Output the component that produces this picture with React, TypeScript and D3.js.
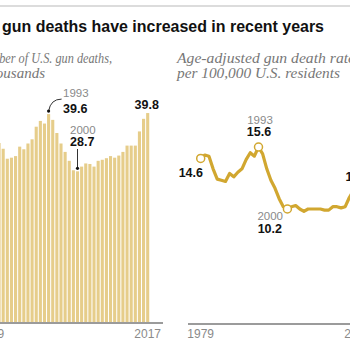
import React from 'react';
import * as d3 from 'd3';

// years 1979..2017
const years = d3.range(1979, 2018);

// number of U.S. gun deaths, thousands
const gunDeaths = [
    32.8, 33.8, 34.1, 33.0, 31.1, 31.3, 31.6, 33.4, 32.9, 34.0, 34.8, 37.2, 38.3, 37.8, 39.6, 38.5, 36.0, 34.0, 32.4,
    30.7, 28.9, 28.7, 29.6, 30.2, 30.1, 29.6, 30.7, 30.9, 31.2, 31.6, 31.3, 31.7, 32.4, 33.6, 33.6, 33.6, 36.3, 38.7,
    39.8,
];

// age-adjusted gun death rate per 100,000
const gunRate = [
    14.6, 14.9, 14.8, 13.7, 12.8, 12.7, 12.6, 13.3, 13.0, 13.4, 13.7, 14.5, 15.1, 14.8, 15.6, 15.0, 13.7, 12.7, 12.0,
    11.1, 10.4, 10.2, 10.4, 10.5, 10.2, 10.0, 10.2, 10.2, 10.2, 10.2, 10.1, 10.1, 10.4, 10.4, 10.3, 10.4, 11.2, 11.8,
    12.0,
];

const axisYears = [1979, 2017];
const rateMarked = [1979, 1993, 2000];

const GOLD = '#d1a730';
const BAR = '#e6cd8a';
const GREY_TXT = '#8a8a8a';
const SANS = '"Liberation Sans", Arial, sans-serif';
const SERIF = '"Liberation Serif", Georgia, serif';

export default function App() {
    const W = 350;
    const H = 350;

    // left panel (bars)
    const xL = d3.scaleLinear().domain([1979, 2017]).range([-9.2, 147.7]);
    const yL = d3.scaleLinear().domain([0, 40]).range([322, 112]);
    const barW = 3.1;

    // right panel (line)
    const xR = d3.scaleLinear().domain([1979, 2017]).range([200.7, 357.6]);
    const yR = d3.scaleLinear().domain([0, 16]).range([326.1, 142.4]);

    const line = d3
        .line<number>()
        .x((d, i) => xR(years[i]))
        .y((d) => yR(d))
        .curve(d3.curveLinear);

    const valOf = (y: number) => gunDeaths[years.indexOf(y)];
    const rateOf = (y: number) => gunRate[years.indexOf(y)];

    return (
        <svg
            width={W}
            height={H}
            style={{ position: 'absolute', left: 0, top: 0, background: '#fff' }}
            fontFamily={SANS}
        >
            <line x1={0} x2={W} y1={6} y2={6} stroke="#dcdcdc" strokeWidth={2} />
            <text
                x={2}
                y={32}
                fontSize={16.5}
                fontWeight="bold"
                fill="#111"
                textLength={322}
                lengthAdjust="spacingAndGlyphs"
            >
                gun deaths have increased in recent years
            </text>

            {/* left subtitle */}
            <g fontFamily={SERIF} fontStyle="italic" fill="#777" fontSize={15}>
                <text x={-24} y={63} textLength={136} lengthAdjust="spacingAndGlyphs">
                    Number of U.S. gun deaths,
                </text>
                <text x={45} y={78} textAnchor="end">
                    in thousands
                </text>
            </g>

            {/* bars */}
            <g>
                {gunDeaths.map((d, i) => (
                    <rect
                        key={years[i]}
                        x={xL(years[i]) - barW / 2}
                        y={yL(d)}
                        width={barW}
                        height={yL(0) - yL(d)}
                        fill={BAR}
                    />
                ))}
            </g>
            <line x1={-25} x2={163} y1={323} y2={323} stroke="#7a7a7a" strokeWidth={1.6} />
            {axisYears.map((yr) => (
                <text key={yr} x={xL(yr)} y={338} fontSize={12} fill={GREY_TXT} textAnchor="middle">
                    {yr}
                </text>
            ))}

            {/* bar annotations */}
            <path
                d={`M${xL(1993)},${yL(valOf(1993)) - 3} Q${xL(1993) + 2},${yL(valOf(1993)) - 15} ${xL(1993) + 13},${
                    yL(valOf(1993)) - 15
                }`}
                fill="none"
                stroke="#333"
                strokeWidth={1}
            />
            <circle cx={xL(1993)} cy={yL(valOf(1993)) - 3} r={1.6} fill="#111" />
            <text x={63} y={97} fontSize={11.5} fill={GREY_TXT}>
                1993
            </text>
            <text x={63} y={113} fontSize={12.5} fontWeight="bold" fill="#111">
                {valOf(1993).toFixed(1)}
            </text>

            <line
                x1={xL(2000)}
                x2={xL(2000)}
                y1={149}
                y2={yL(valOf(2000)) - 3}
                stroke="#333"
                strokeWidth={1}
            />
            <circle cx={xL(2000)} cy={yL(valOf(2000)) - 3} r={1.6} fill="#111" />
            <text x={70} y={134} fontSize={11.5} fill={GREY_TXT}>
                2000
            </text>
            <text x={70} y={146} fontSize={12.5} fontWeight="bold" fill="#111">
                {valOf(2000).toFixed(1)}
            </text>

            <text x={xL(2017) - 1} y={109} fontSize={12.5} fontWeight="bold" fill="#111" textAnchor="middle">
                {valOf(2017).toFixed(1)}
            </text>

            {/* right subtitle */}
            <g fontFamily={SERIF} fontStyle="italic" fill="#777" fontSize={15}>
                <text x={177} y={63} textLength={182} lengthAdjust="spacingAndGlyphs">
                    Age-adjusted gun death rate,
                </text>
                <text x={177} y={78} textLength={163} lengthAdjust="spacingAndGlyphs">
                    per 100,000 U.S. residents
                </text>
            </g>

            {/* line */}
            <line x1={188} x2={375} y1={324} y2={324} stroke="#7a7a7a" strokeWidth={1.6} />
            {axisYears.map((yr) => (
                <text key={yr} x={xR(yr)} y={338} fontSize={12} fill={GREY_TXT} textAnchor="middle">
                    {yr}
                </text>
            ))}
            <path
                d={line(gunRate) || ''}
                fill="none"
                stroke={GOLD}
                strokeWidth={3.2}
                strokeLinejoin="round"
                strokeLinecap="round"
            />
            {rateMarked.map((yr) => (
                <circle key={yr} cx={xR(yr)} cy={yR(rateOf(yr))} r={4} fill="#fff" stroke={GOLD} strokeWidth={1.5} />
            ))}

            <text x={203} y={177} fontSize={12.5} fontWeight="bold" fill="#111" textAnchor="end">
                {rateOf(1979).toFixed(1)}
            </text>
            <text x={260} y={124} fontSize={11.5} fill={GREY_TXT} textAnchor="middle">
                1993
            </text>
            <text x={259} y={136} fontSize={12.5} fontWeight="bold" fill="#111" textAnchor="middle">
                {rateOf(1993).toFixed(1)}
            </text>
            <text x={283} y={220} fontSize={11.5} fill={GREY_TXT} textAnchor="end">
                2000
            </text>
            <text x={282} y={233} fontSize={12.5} fontWeight="bold" fill="#111" textAnchor="end">
                {rateOf(2000).toFixed(1)}
            </text>
            <text x={xR(2017)} y={181} fontSize={12.5} fontWeight="bold" fill="#111" textAnchor="middle">
                {rateOf(2017).toFixed(1)}
            </text>
        </svg>
    );
}
